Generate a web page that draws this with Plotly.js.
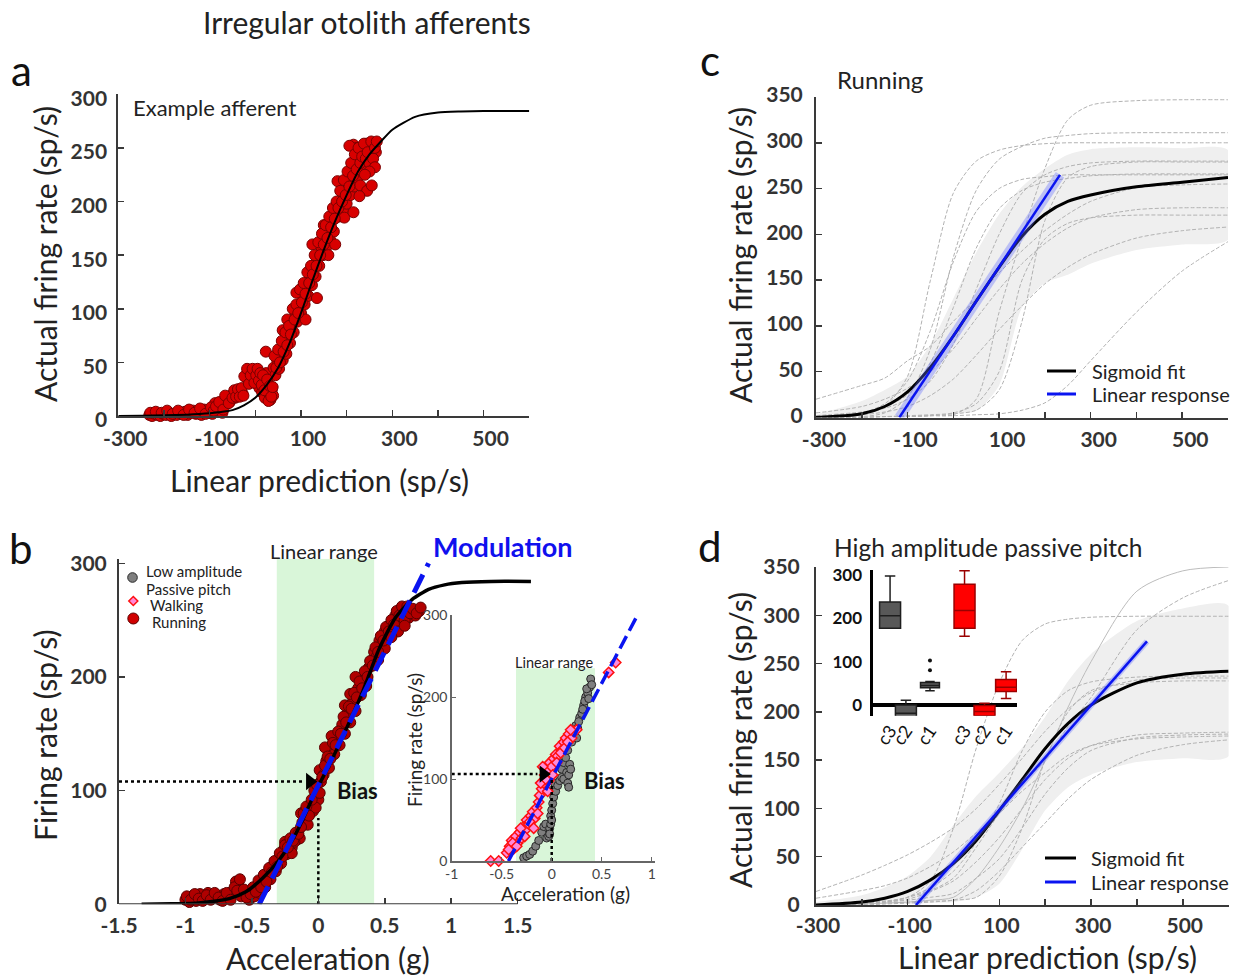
<!DOCTYPE html>
<html><head><meta charset="utf-8">
<script src="https://cdn.plot.ly/plotly-3.0.1.min.js"></script>
<style>html,body{margin:0;padding:0;background:#fff}#chart{width:1235px;height:978px}</style>
</head><body><div id="chart"></div>
<script>
// ===================== DATA =====================
// Panel a: example afferent, running (linear prediction vs actual firing rate)
const aRunning = [
[-232,1],[-226,0],[-220,2],[-214,1],[-208,0],[-202,2],[-196,1],[-190,3],[-184,0],[-178,2],[-172,1],[-166,3],[-160,2],[-154,4],[-148,1],[-142,3],[-136,5],[-130,2],[-124,4],[-118,1],[-112,6],[-106,3],[-100,5],[-94,2],[-88,12],[-84,7],[-80,4],[-76,9],[-72,3],[-68,11],[-64,15],[-60,18],[-56,13],[-52,19],[-48,21],[-44,17],[-40,22],[-36,20],[-32,23],[-28,21],
[-20,36],[-16,40],[-12,33],[-8,41],[-4,37],[0,42],[3,30],[6,39],[9,26],[12,35],[15,22],[18,31],[21,17],[24,40],[27,28],[30,21],[33,15],[36,24],[39,19],[23,60],
[40,45],[44,38],[48,52],[52,44],[56,60],[60,52],[60,80],[64,64],[68,58],[72,74],[76,68],[80,86],[84,78],[88,96],[92,88],[96,104],[100,96],[104,112],[108,104],[112,120],[116,112],[120,130],[124,122],[128,140],[132,130],[136,150],[140,140],[144,158],[148,150],[152,166],[156,158],[160,174],[164,164],[168,182],[172,172],[176,190],[180,219],[184,186],[188,200],[192,192],[196,208],[200,198],[204,216],[208,206],[212,226],[216,214],[220,234],[224,222],[228,240],[232,228],[236,248],[240,232],[244,254],[248,238],[252,250],[256,242],[260,252],[264,246],[215,253],[222,250],[206,252],[150,178],[125,160],[110,90],[175,160],[195,185],[230,215],[70,90],[90,115],[135,110],[160,150],
[-230,3],[-218,4],[-205,3],[-193,5],[-181,2],[-169,5],[-157,1],[-145,6],[-133,3],[-121,7],[-109,2],[-97,8],[-91,5],[-86,9],[-79,13],[-70,6],[-66,19],[-58,12],[-50,17],[-46,24],[-42,18],[-38,25],[-34,18],[-30,26],[-26,19],[-24,37],[-18,44],[-14,30],[-10,38],[-6,44],[-2,31],[2,38],[5,44],[8,33],[11,40],[14,29],[17,38],[20,24],[26,34],[29,14],[32,28],[35,18],[38,27],[42,56],[46,45],[50,62],[54,50],[58,70],[62,60],[66,78],[70,66],[74,84],[78,76],[82,100],[86,90],[90,104],[94,96],[98,118],[102,106],[106,124],[110,114],[114,134],[118,124],[122,140],[126,132],[130,150],[134,140],[138,162],[142,150],[146,170],[150,160],[154,178],[158,166],[162,186],[166,176],[170,194],[174,184],[178,200],[182,194],[186,210],[190,200],[194,220],[198,206],[202,228],[206,214],[210,236],[214,224],[218,244],[222,230],[226,250],[230,236],[234,242],[238,254],[242,240],[246,246],[250,236],[254,256],[258,240],[262,250],[266,256],[262,232],[250,228],[240,225],[245,210],[255,215],[215,190],[228,205]
];
const aFitX = [-300,-250,-200,-150,-100,-75,-50,-25,0,25,50,75,100,125,150,175,200,225,250,275,300,350,400,450,500,600];
const aFitY = [0,0.3,0.6,1.2,2.5,3.8,5.5,10,17,29,45,68,96,126,155,182,206,228,244,256,267,279,283,284,284.5,284.5];
const predTicks = [-300,-200,-100,0,100,200,300,400,500,600];
const predLabels = ['-300','','-100','','100','','300','','500',''];

// Panel b: acceleration vs firing rate
const bRunning = [
[-1.0,4],[-0.97,2],[-0.95,7],[-0.92,3],[-0.89,9],[-0.86,5],[-0.83,10],[-0.8,6],[-0.77,8],[-0.74,4],[-0.71,9],[-0.68,6],[-0.65,11],[-0.62,20],[-0.6,16],[-0.58,7],[-0.55,10],[-0.52,4],[-0.5,12],[-0.48,7],[-0.46,16],[-0.44,10],[-0.42,20],[-0.4,15],
[-0.38,27],[-0.36,22],[-0.34,34],[-0.32,29],[-0.3,40],[-0.28,36],[-0.26,48],[-0.24,44],[-0.22,54],[-0.2,50],[-0.18,60],[-0.16,57],[-0.14,58],[-0.12,72],[-0.1,76],[-0.08,70],[-0.06,88],[-0.04,82],[-0.02,96],[0,92],[0.02,108],[0.01,118],[0.04,114],[0.06,126],[0.08,120],[0.1,136],[0.12,132],[0.14,146],[0.16,140],[0.18,158],[0.2,150],[0.22,168],[0.24,160],[0.26,178],[0.28,170],[0.3,190],[0.32,184],[0.34,198],[0.36,192],[0.38,208],[0.4,214],[0.42,222],[0.44,218],[0.46,232],[0.48,228],[0.5,240],[0.52,236],[0.54,246],[0.56,242],[0.58,254],[0.6,250],[0.62,260],[0.64,256],[0.66,258],[0.68,252],[0.7,257],[0.73,254],[0.76,258],
[-0.18,55],[-0.13,80],[-0.1,82],[0.2,175],[0.24,185],[0.28,200],[0.1,148],[0.05,138],[-0.02,85],[-0.2,45],[-0.25,55],[0.45,215],[0.5,225],
[-0.99,7],[-0.96,4],[-0.93,9],[-0.9,5],[-0.87,3],[-0.84,8],[-0.81,4],[-0.78,10],[-0.75,6],[-0.72,3],[-0.69,10],[-0.66,4],[-0.63,15],[-0.61,12],[-0.59,22],[-0.56,13],[-0.54,6],[-0.51,9],[-0.49,15],[-0.47,11],[-0.45,21],[-0.43,15],[-0.41,26],[-0.39,20],[-0.37,32],[-0.35,28],[-0.33,38],[-0.31,33],[-0.29,45],[-0.27,42],[-0.25,52],[-0.23,50],[-0.21,58],[-0.19,56],[-0.17,63],[-0.15,62],[-0.13,68],[-0.11,80],[-0.09,86],[-0.07,78],[-0.05,92],[-0.03,100],[-0.01,105],[0.01,98],[0.03,112],[0.05,122],[0.07,130],[0.09,128],[0.11,142],[0.13,140],[0.15,152],[0.17,150],[0.19,165],[0.21,160],[0.23,174],[0.25,172],[0.27,186],[0.29,182],[0.31,196],[0.33,190],[0.35,205],[0.37,200],[0.39,214],[0.41,210],[0.43,226],[0.45,222],[0.47,236],[0.49,232],[0.51,244],[0.53,240],[0.55,250],[0.57,246],[0.59,258],[0.61,254],[0.63,262],[0.65,250],[0.67,262],[0.69,256],[0.71,260],[0.74,256],[0.77,261],[0.6,240],[0.65,245],[0.55,235]
];
const bFitX = [-1.33,-1.1,-0.92,-0.8,-0.67,-0.545,-0.42,-0.295,-0.17,-0.045,0,0.08,0.205,0.33,0.455,0.58,0.705,0.83,0.95,1.08,1.3,1.6];
const bFitY = [0,0.5,1,2.5,5,11,23,39,62,93,104,122,153,186,224,252,268,277,281,283,284,284];
const bModX = [-0.445, 0.83];
const bModY = [0, 300];
const bBias = 108;
const bBiasArrowX = -0.064;
const bBiasVertTop = 76;
const bLinearRange = [-0.3125, 0.42];
const bLinearRangeTop = 304;
const accTicks = [-1.5,-1,-0.5,0,0.5,1,1.5];
const accLabels = ['-1.5','-1','-0.5','0','0.5','1','1.5'];

// Panel b inset: low amplitude passive pitch (gray) and walking (diamonds)
const insLowAmp = [
[-0.28,4],[-0.25,6],[-0.22,8],[-0.19,12],[-0.16,18],[-0.13,25],[-0.1,35],[-0.08,42],[-0.06,45],[-0.05,28],[-0.03,30],[-0.02,40],[-0.01,55],[0,62],[0.01,70],[0.02,78],[0.03,95],[0.04,85],[0.06,92],[0.06,118],[0.08,98],[0.1,102],[0.1,112],[0.12,100],[0.12,120],[0.15,108],[0.16,95],[0.18,118],[0.14,126],[0.16,135],[0.18,150],[0.2,145],[0.22,155],[0.24,165],[0.26,162],[0.28,175],[0.3,180],[0.32,190],[0.34,200],[0.36,205],[0.38,212],[0.39,222],
[-0.02,33],[-0.01,45],[0.0,50],[0.17,90],[0.17,105],[0.19,112],[0.21,160],[0.25,150],[0.27,170],[0.31,185],[0.33,195],[0.35,210],[0.37,198],[0.4,215]
];
const insWalking = [
[-0.61,0],[-0.53,0],[-0.45,10],[-0.42,18],[-0.4,25],[-0.38,15],[-0.36,30],[-0.34,22],[-0.32,35],[-0.3,28],[-0.28,42],[-0.26,38],[-0.25,50],[-0.23,45],[-0.21,55],[-0.19,60],[-0.17,52],[-0.15,65],[-0.13,72],[-0.12,80],[-0.1,88],[-0.08,95],[-0.07,105],[-0.05,110],[-0.03,98],[-0.02,120],[0,115],[0.02,125],[0.04,130],[0.06,128],[0.08,140],[0.1,135],[0.12,145],[0.14,150],[0.17,155],[0.2,150],[0.22,158],[0.25,160],[-0.09,115],[-0.04,85],[0.57,230],[0.64,242],
[-0.43,14],[-0.39,22],[-0.35,18],[-0.31,40],[-0.27,30],[-0.22,48],[-0.18,40],[-0.14,58],[-0.11,95],[-0.06,100],[0.01,105],[0.05,120],[0.09,132],[0.13,138],[0.16,145],[0.19,160]
];
const insModX = [-0.433, 0.85];
const insModY = [0, 298];
const insBias = 106;
const insBiasArrowX = -0.083;
const insBiasVertTop = 99;
const insLinearRange = [-0.357, 0.433];
const insLinearRangeTop = 235;
const insAccTicks = [-1,-0.5,0,0.5,1];
const insAccLabels = ['-1','-0.5','0','0.5','1'];

// Panels c and d: individual sigmoid fits sampled on a common prediction grid
const gridX = [-300,-200,-150,-100,-50,0,50,100,150,200,250,300,400,500,600];
const cCells = [
  [0,0,1,1,2,3,20,115,197,272,325,341,346,347,347],
  [0,1,5,22,75,175,248,282,296,305,308,310,311,311,311],
  [0,3,12,45,150,245,280,292,297,299,300,300,300,300,300],
  [0,0,1,1,2,4,8,30,105,215,262,274,279,279,279],
  [1,5,12,25,60,120,185,228,248,257,261,264,266,266,266],
  [20,35,43,62,78,105,130,158,182,204,222,236,251,254,255],
  [5,12,20,32,50,75,108,140,168,190,207,218,227,229,229],
  [0,0,1,2,3,5,15,50,150,195,212,218,221,221,221],
  [0,3,6,12,24,42,68,96,122,146,164,178,196,204,208],
  [0,0,1,1,2,2,3,4,8,16,35,62,115,160,192],
  [0,5,15,40,95,170,225,250,260,263,265,265,265,265,265],
  [2,6,10,20,40,80,140,200,245,265,274,278,280,280,280]
];
const cBandUpper = [3,18,30,45,80,130,180,222,252,272,287,293,295,294,292];
const cBandLower = [0,0,0,1,1,4,7,35,120,147,156,168,183,189,194];
const cFit = [0,4,12,28,55,89,127,164,198,222,236,243,252,257,262];
const cLinX = [-118, 233];
const cLinY = [0, 265];

const dCells = [
  [0,1,2,3,5,8,28,60,100,150,205,252,325,346,350],
  [0,2,3,8,15,28,60,95,125,150,185,215,285,318,336],
  [0,1,3,8,25,80,163,230,274,291,296,298,299,299,299],
  [0,2,4,8,18,35,65,105,160,200,222,231,236,237,237],
  [14,31,41,52,65,80,100,125,152,180,203,220,233,235,235],
  [0,0,1,2,3,5,8,30,80,150,200,222,230,232,232],
  [0,2,4,6,14,25,45,70,100,130,152,165,176,178,179],
  [0,2,3,5,8,12,28,48,80,115,142,160,173,176,177],
  [7,15,20,28,40,55,75,95,118,137,155,165,172,174,175],
  [0,1,2,3,4,5,15,35,60,85,110,130,155,166,171]
];
const dBandUpper = [3,10,18,30,50,83,113,137,163,195,232,260,294,307,310];
const dBandLower = [0,0,1,1,2,3,8,22,58,98,122,135,148,152,154];
const dFit = [0,3,7,14,26,43,67,98,130,162,188,207,230,239,242];
const dLinX = [-82, 422];
const dLinY = [0, 273];
const rate300Ticks = [0,50,100,150,200,250,300];
const rate350Ticks = [0,50,100,150,200,250,300,350];
const rate100Ticks = [0,100,200,300];

// Panel d inset: box plots (gray and red groups), c3 c2 c1
const boxLabels = ['c3','c2','c1','c3','c2','c1'];
const boxLower = [177,-45,33,159,-30,15];
const boxQ1 = [177,-36,40,177,-25,31];
const boxMedian = [206,-19,45,218,-15,41];
const boxQ3 = [238,0,52,279,-1,59];
const boxUpper = [298,11,54,310,4,77];
const boxOutliersC1 = [80,103];

// ===================== LAYOUT HELPERS =====================
const FONT = 'Lato, "Open Sans", "DejaVu Sans", sans-serif';
const W = 1235, H = 978;
const fx = p => p / W;
const fy = p => 1 - p / H;
const domX = (a, b) => [fx(a), fx(b)];
const domY = (top, bottom) => [fy(bottom), fy(top)];
const bold = arr => arr.map(s => (s === '' ? '' : '<b>' + s + '</b>'));
const boxPos = [0.83, 1.6, 2.77, 4.45, 5.42, 6.47];
const boxWidth = [1.02, 1.02, 0.92, 1.02, 1.02, 1.02];

function mainAxis(o) {
  return Object.assign({
    showgrid: false, zeroline: false, showline: true, linecolor: '#3a3a3a', linewidth: 2,
    ticks: 'inside', ticklen: 6, tickwidth: 1.5, tickcolor: '#3a3a3a',
    tickfont: {family: FONT, size: 21, color: '#333', weight: 700}, fixedrange: true
  }, o);
}
function insetAxis(o) {
  return Object.assign({
    showgrid: false, zeroline: false, showline: true, linecolor: '#666', linewidth: 1.5,
    ticks: 'inside', ticklen: 4, tickwidth: 1, tickcolor: '#666',
    tickfont: {family: FONT, size: 14, color: '#444'}, fixedrange: true
  }, o);
}

const traces = [];
const px = arr => arr.map(p => p[0]);
const py = arr => arr.map(p => p[1]);
const noLeg = {showlegend:false, hoverinfo:'skip'};

// ---- panel a ----
traces.push(Object.assign({type:'scatter', mode:'markers', x:px(aRunning), y:py(aRunning), xaxis:'x', yaxis:'y',
  marker:{size:11, color:'#d80000', line:{color:'#7a0000', width:1}}, cliponaxis:false}, noLeg));
traces.push(Object.assign({type:'scatter', mode:'lines', x:aFitX, y:aFitY, xaxis:'x', yaxis:'y',
  line:{color:'#000', width:2, shape:'spline', smoothing:0.6}}, noLeg));

// ---- panel b main ----
traces.push(Object.assign({type:'scatter', mode:'markers', x:px(bRunning), y:py(bRunning), xaxis:'x2', yaxis:'y2',
  marker:{size:11, color:'#b00000', line:{color:'#5a0000', width:1}}, cliponaxis:false}, noLeg));
traces.push(Object.assign({type:'scatter', mode:'lines', x:bFitX, y:bFitY, xaxis:'x2', yaxis:'y2',
  line:{color:'#000', width:3.5, shape:'spline', smoothing:0.6}}, noLeg));
traces.push(Object.assign({type:'scatter', mode:'lines', x:bModX, y:bModY, xaxis:'x2', yaxis:'y2',
  line:{color:'#0a14f0', width:5, dash:'20px,9px'}}, noLeg));
traces.push(Object.assign({type:'scatter', mode:'lines', x:[-1.5, bBiasArrowX - 0.045], y:[bBias, bBias], xaxis:'x2', yaxis:'y2',
  line:{color:'#000', width:2.5, dash:'dot'}}, noLeg));
traces.push(Object.assign({type:'scatter', mode:'lines', x:[0, 0], y:[0, bBiasVertTop], xaxis:'x2', yaxis:'y2',
  line:{color:'#000', width:2.5, dash:'dot'}}, noLeg));
traces.push(Object.assign({type:'scatter', mode:'markers', x:[bBiasArrowX], y:[bBias], xaxis:'x2', yaxis:'y2',
  marker:{symbol:'triangle-right', size:15, color:'#000'}, cliponaxis:false}, noLeg));

// ---- panel b inset ----
traces.push(Object.assign({type:'scatter', mode:'markers', x:px(insLowAmp), y:py(insLowAmp), xaxis:'x3', yaxis:'y3',
  marker:{size:8, color:'#7f7f7f', line:{color:'#2a2a2a', width:1}}, cliponaxis:false}, noLeg));
traces.push(Object.assign({type:'scatter', mode:'markers', x:px(insWalking), y:py(insWalking), xaxis:'x3', yaxis:'y3',
  marker:{symbol:'diamond', size:8, color:'#ff8ad8', line:{color:'#ff1010', width:1.5}}, cliponaxis:false}, noLeg));
traces.push(Object.assign({type:'scatter', mode:'lines', x:insModX, y:insModY, xaxis:'x3', yaxis:'y3',
  line:{color:'#0a14f0', width:3.5, dash:'14px,6px'}}, noLeg));
traces.push(Object.assign({type:'scatter', mode:'lines', x:[-1, insBiasArrowX - 0.06], y:[insBias, insBias], xaxis:'x3', yaxis:'y3',
  line:{color:'#000', width:2.5, dash:'dot'}}, noLeg));
traces.push(Object.assign({type:'scatter', mode:'lines', x:[0, 0], y:[0, insBiasVertTop], xaxis:'x3', yaxis:'y3',
  line:{color:'#000', width:2.5, dash:'dot'}}, noLeg));
traces.push(Object.assign({type:'scatter', mode:'markers', x:[insBiasArrowX], y:[insBias], xaxis:'x3', yaxis:'y3',
  marker:{symbol:'triangle-right', size:15, color:'#000'}, cliponaxis:false}, noLeg));

// ---- panels c & d ----
function popPanel(xa, ya, cells, bandU, bandL, fit, linX, linY, bandW, solidFirst) {
  traces.push(Object.assign({type:'scatter', mode:'lines', x:gridX.concat(gridX.slice().reverse()), y:bandU.concat(bandL.slice().reverse()),
    xaxis:xa, yaxis:ya, fill:'toself', fillcolor:'#efefef', line:{width:0, shape:'spline', smoothing:0.7}}, noLeg));
  cells.forEach((c, i) => {
    const solid = solidFirst && i === 0;
    traces.push(Object.assign({type:'scatter', mode:'lines', x:gridX, y:c, xaxis:xa, yaxis:ya,
      line:{color: solid ? '#bcbcbc' : '#b2b2b2', width:1, dash: solid ? 'solid' : '4px,2px', shape:'spline', smoothing:0.8}}, noLeg));
  });
  traces.push(Object.assign({type:'scatter', mode:'lines', x:gridX, y:fit, xaxis:xa, yaxis:ya,
    line:{color:'#000', width:3, shape:'spline', smoothing:0.8}}, noLeg));
  traces.push(Object.assign({type:'scatter', mode:'lines', x:linX, y:linY, xaxis:xa, yaxis:ya,
    line:{color:'rgba(95,105,255,0.35)', width:bandW}}, noLeg));
  traces.push(Object.assign({type:'scatter', mode:'lines', x:linX, y:linY, xaxis:xa, yaxis:ya,
    line:{color:'#0a14f0', width:2.5}}, noLeg));
}
popPanel('x4','y4', cCells, cBandUpper, cBandLower, cFit, cLinX, cLinY, 10, false);
popPanel('x5','y5', dCells, dBandUpper, dBandLower, dFit, dLinX, dLinY, 6, true);

// ---- panel d inset boxes ----
boxLabels.forEach((lab, i) => {
  const red = i >= 3;
  traces.push(Object.assign({type:'box', x:[boxPos[i]], q1:[boxQ1[i]], median:[boxMedian[i]], q3:[boxQ3[i]],
    lowerfence:[boxLower[i]], upperfence:[boxUpper[i]], width:boxWidth[i], whiskerwidth:0.5,
    fillcolor: red ? '#ff0000' : '#585858', line:{color: red ? '#9a0000' : '#1e1e1e', width:1.5},
    boxpoints:false, xaxis:'x6', yaxis:'y6'}, noLeg));
});
traces.push(Object.assign({type:'scatter', mode:'markers', x:boxOutliersC1.map(() => boxPos[2]), y:boxOutliersC1, xaxis:'x6', yaxis:'y6',
  marker:{size:4, color:'#111'}, cliponaxis:false}, noLeg));

// ===================== ANNOTATIONS & SHAPES =====================
function ann(text, x, y, size, o) {
  return Object.assign({text, x:fx(x), y:fy(y), xref:'paper', yref:'paper', xanchor:'center', yanchor:'middle',
    showarrow:false, font:{family:FONT, size, color:'#222'}}, o || {});
}
const letterFont = {family:FONT, size:42, color:'#111'};
const annotations = [
  ann('Irregular otolith afferents', 367, 22, 30),
  ann('a', 21, 70, 42, {font:letterFont}),
  ann('b', 21, 548, 42, {font:letterFont}),
  ann('c', 710, 60, 42, {font:letterFont}),
  ann('d', 710, 546, 42, {font:letterFont}),
  ann('Example afferent', 131, 107, 22, {xanchor:'left'}),
  ann('Linear prediction (sp/s)', 319, 480, 30),
  ann('Actual firing rate (sp/s)', 45, 254, 30, {textangle:-90}),
  ann('Firing rate (sp/s)', 45, 735, 30, {textangle:-90}),
  ann('Acceleration (g)', 328, 958, 30),
  ann('Linear range', 324, 551, 20),
  ann('Modulation', 503, 546, 27, {font:{family:FONT,size:27,color:'#1010ee',weight:700}}),
  ann('Bias', 357, 790, 22, {font:{family:FONT,size:22,color:'#111',weight:700}}),
  ann('Linear range', 554, 662, 14.5),
  ann('Bias', 604, 780, 22, {font:{family:FONT,size:22,color:'#111',weight:700}}),
  ann('Firing rate (sp/s)', 414, 740, 19, {textangle:-90}),
  ann('Acceleration (g)', 565, 893, 19),
  ann('Running', 880, 79, 24),
  ann('Actual firing rate (sp/s)', 740, 255, 30, {textangle:-90}),
  ann('High amplitude passive pitch', 988, 547, 24.5),
  ann('Actual firing rate (sp/s)', 740, 740, 30, {textangle:-90}),
  ann('Linear prediction (sp/s)', 1047, 957, 30),
  // legend texts
  ann('Low amplitude', 144, 571, 15, {xanchor:'left'}),
  ann('Passive pitch', 144, 589, 15, {xanchor:'left'}),
  ann('Walking', 148, 605, 15, {xanchor:'left'}),
  ann('Running', 150, 622, 15, {xanchor:'left'}),
  ann('Sigmoid fit', 1090, 371, 20, {xanchor:'left'}),
  ann('Linear response', 1090, 394, 20, {xanchor:'left'}),
  ann('Sigmoid fit', 1089, 858, 20, {xanchor:'left'}),
  ann('Linear response', 1089, 882, 20, {xanchor:'left'})
];
function pline(x0, x1, y, color, w) {
  return {type:'line', xref:'paper', yref:'paper', x0:fx(x0), x1:fx(x1), y0:fy(y), y1:fy(y), line:{color, width:w}};
}
function pcircle(cx, cy, r, fill, edge) {
  return {type:'circle', xref:'paper', yref:'paper', x0:fx(cx - r), x1:fx(cx + r), y0:fy(cy + r), y1:fy(cy - r),
    fillcolor:fill, line:{color:edge, width:1}};
}
function pdiamond(cx, cy, r, fill, edge) {
  const p = `M ${fx(cx)} ${fy(cy - r)} L ${fx(cx + r)} ${fy(cy)} L ${fx(cx)} ${fy(cy + r)} L ${fx(cx - r)} ${fy(cy)} Z`;
  return {type:'path', xref:'paper', yref:'paper', path:p, fillcolor:fill, line:{color:edge, width:1.5}};
}
const shapes = [
  {type:'rect', xref:'x2', yref:'y2', x0:bLinearRange[0], x1:bLinearRange[1], y0:0, y1:bLinearRangeTop,
    fillcolor:'#d9f6d9', line:{width:0}, layer:'below'},
  {type:'rect', xref:'x3', yref:'y3', x0:insLinearRange[0], x1:insLinearRange[1], y0:0, y1:insLinearRangeTop,
    fillcolor:'#d9f6d9', line:{width:0}, layer:'below'},
  {type:'line', xref:'x2', yref:'y2', x0:-1.5, x1:1.5, y0:0, y1:0, line:{color:'#3a3a3a', width:2}, layer:'above'},
  // legend symbols
  pcircle(132.5, 577.5, 4.8, '#7f7f7f', '#2a2a2a'),
  pdiamond(133.3, 601, 4.5, '#ff8ad8', '#ff1010'),
  pcircle(133.3, 618.5, 5.5, '#d00000', '#5a0000'),
  pline(1047, 1076, 371, '#000', 3),
  pline(1047, 1076, 394, '#0a14f0', 3),
  pline(1045, 1076, 858, '#000', 3),
  pline(1045, 1076, 882, '#0a14f0', 3)
];

const layout = {
  width: W, height: H, margin:{l:0, r:0, t:0, b:0},
  paper_bgcolor:'#fff', plot_bgcolor:'rgba(0,0,0,0)',
  font:{family:FONT, color:'#222'},
  showlegend:false, boxmode:'overlay',
  xaxis: mainAxis({domain:domX(118.3,529.3), range:[-300,600], anchor:'y', tickvals:predTicks, ticktext:bold(predLabels), ticklabelshift:7, ticklabelstandoff:3}),
  yaxis: mainAxis({domain:domY(94.3,416), range:[0,300], anchor:'x', tickvals:rate300Ticks, ticktext:bold(rate300Ticks.map(String)), ticklabelshift:4, ticklabelstandoff:5}),
  xaxis2: mainAxis({domain:domX(119,533.6), range:[-1.5,1.62], anchor:'y2', showline:false, tickvals:accTicks, ticktext:bold(accLabels), ticklabelstandoff:7}),
  yaxis2: mainAxis({domain:domY(558.7,904.3), range:[0,304], anchor:'x2', tickvals:rate100Ticks, ticktext:bold(rate100Ticks.map(String)), ticklabelstandoff:6}),
  xaxis3: insetAxis({domain:domX(451.7,655), range:[-1,1.033], anchor:'y3', tickvals:insAccTicks, ticktext:insAccLabels, ticklabelstandoff:0}),
  yaxis3: insetAxis({domain:domY(615,861), range:[0,300], anchor:'x3', tickvals:rate100Ticks, ticktext:rate100Ticks.map(String)}),
  xaxis4: mainAxis({domain:domX(816,1228), range:[-300,600], anchor:'y4', tickvals:predTicks, ticktext:bold(predLabels), ticklabelshift:8, ticklabelstandoff:2}),
  yaxis4: mainAxis({domain:domY(97,417.5), range:[0,350], anchor:'x4', tickvals:rate350Ticks, ticktext:bold(rate350Ticks.map(String)), ticklabelshift:-2, ticklabelstandoff:7}),
  xaxis5: mainAxis({domain:domX(816,1228.6), range:[-300,600], anchor:'y5', tickvals:predTicks, ticktext:bold(predLabels), ticklabelshift:2, ticklabelstandoff:1}),
  yaxis5: mainAxis({domain:domY(567,905), range:[0,350], anchor:'x5', tickvals:rate350Ticks, ticktext:bold(rate350Ticks.map(String)), ticklabelstandoff:10}),
  xaxis6: {domain:domX(873,1017), range:[0,7], anchor:'y6', showgrid:false, zeroline:false, showline:false, ticks:'',
    tickvals:boxPos, ticktext:boxLabels, tickangle:-55, tickfont:{family:FONT, size:18, color:'#111'}, fixedrange:true},
  yaxis6: {domain:domY(569.9,715.8), range:[-25,312], anchor:'x6', showgrid:false, zeroline:true, zerolinecolor:'#000', zerolinewidth:3.5,
    showline:true, linecolor:'#000', linewidth:3.5, ticks:'', tickvals:rate100Ticks, ticktext:bold(rate100Ticks.map(String)), ticklabelstandoff:4,
    tickfont:{family:FONT, size:17, color:'#111'}, fixedrange:true},
  annotations, shapes
};

Plotly.newPlot('chart', traces, layout, {staticPlot:true, displayModeBar:false});
</script></body></html>
